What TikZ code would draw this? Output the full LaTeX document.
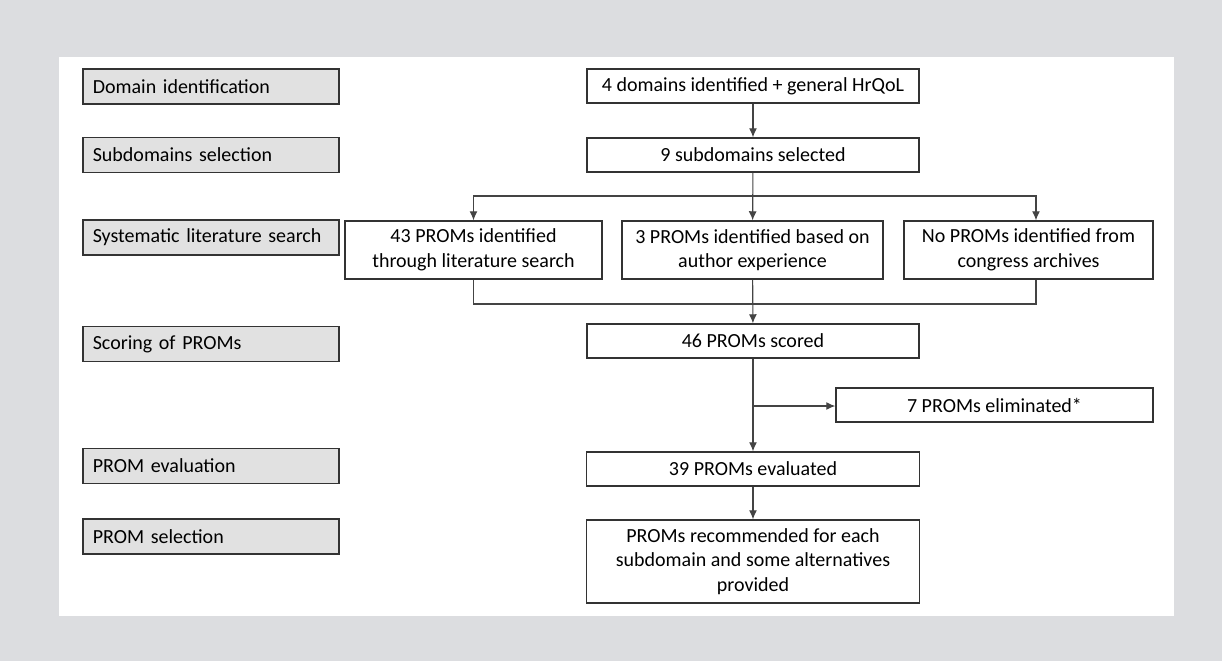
\documentclass[tikz,border=0pt]{standalone}
\usepackage{fontspec}
\setmainfont{Carlito}
\usetikzlibrary{arrows.meta}

\definecolor{pagegray}{HTML}{DCDDE0}
\definecolor{labelgray}{HTML}{E1E1E1}
\definecolor{edgegray}{HTML}{333333}
\definecolor{linegray}{HTML}{444444}

\tikzset{
  stage/.style={draw=edgegray, fill=labelgray, line width=0.8pt, anchor=west,
    minimum height=17.5pt, text width=118pt, inner xsep=5pt, align=left,
    font=\fontsize{10}{12.3}\selectfont, text=black},
  flowbox/.style={draw=edgegray, fill=white, line width=0.75pt, inner sep=0pt,
    align=center, font=\fontsize{10}{12.3}\selectfont, text=black},
  link/.style={draw=linegray, line width=0.55pt},
  arr/.style={link, -{Latex[length=4.5pt,width=4pt]}}
}

\begin{document}
\begin{tikzpicture}[x=0.5pt, y=-0.5pt]
    \useasboundingbox (0,0) rectangle (1222,661);
    \fill[pagegray] (0,0) rectangle (1222,661);
    \fill[white] (59,57) rectangle (1174,616);

    %stages
    \node[stage] (dom) at (82,86.5) {Domain identification};
    \node[stage] (sub) at (82,155) {Subdomains selection};
    \node[stage] (sys) at (82,237.5) {Systematic literature search};
    \node[stage] (sco) at (82,344) {Scoring of PROMs};
    \node[stage] (eva) at (82,466) {PROM evaluation};
    \node[stage] (sel) at (82,536.5) {PROM selection};

    %flow
    \node[flowbox, minimum width=166pt, minimum height=17pt] (domains) at (753,86) {4 domains identified + general HrQoL};
    \node[flowbox, minimum width=166pt, minimum height=17pt] (subdomains) at (753,155) {9 subdomains selected};
    \node[flowbox, minimum width=128.5pt, minimum height=29pt] (litsearch) at (473.5,250) {43 PROMs identified\\through literature search};
    \node[flowbox, minimum width=130.5pt, minimum height=29pt] (experience) at (752.5,250) {3 PROMs identified based on\\author experience};
    \node[flowbox, minimum width=124.5pt, minimum height=29pt] (congress) at (1028.5,250) {No PROMs identified from\\congress archives};
    \node[flowbox, minimum width=166pt, minimum height=17pt] (scored) at (753,341) {46 PROMs scored};
    \node[flowbox, minimum width=158.5pt, minimum height=17pt] (eliminated) at (994.5,405) {7 PROMs eliminated*};
    \node[flowbox, minimum width=166.5pt, minimum height=17pt] (evaluated) at (753,469) {39 PROMs evaluated};
    \node[flowbox, minimum width=166.5pt, minimum height=41.5pt] (recommended) at (753,561.5) {PROMs recommended for each\\subdomain and some alternatives\\provided};

    \coordinate (split) at (753,196);
    \coordinate (merge) at (753,304);
    \coordinate (drop) at (753,406);

    \draw[arr] (domains) -- (subdomains);
    \draw[arr] (subdomains) -- (experience);
    \draw[arr] (split) -| (litsearch.north);
    \draw[arr] (split) -| ([xshift=3.75pt]congress.north);
    \draw[link] (litsearch.south) |- (merge);
    \draw[link] ([xshift=3.75pt]congress.south) |- (merge);
    \draw[arr] (experience) -- (scored);
    \draw[arr] (scored) -- (evaluated);
    \draw[arr] (drop) -- (drop -| eliminated.west);
    \draw[arr] (evaluated) -- (recommended);
\end{tikzpicture}
\end{document}
